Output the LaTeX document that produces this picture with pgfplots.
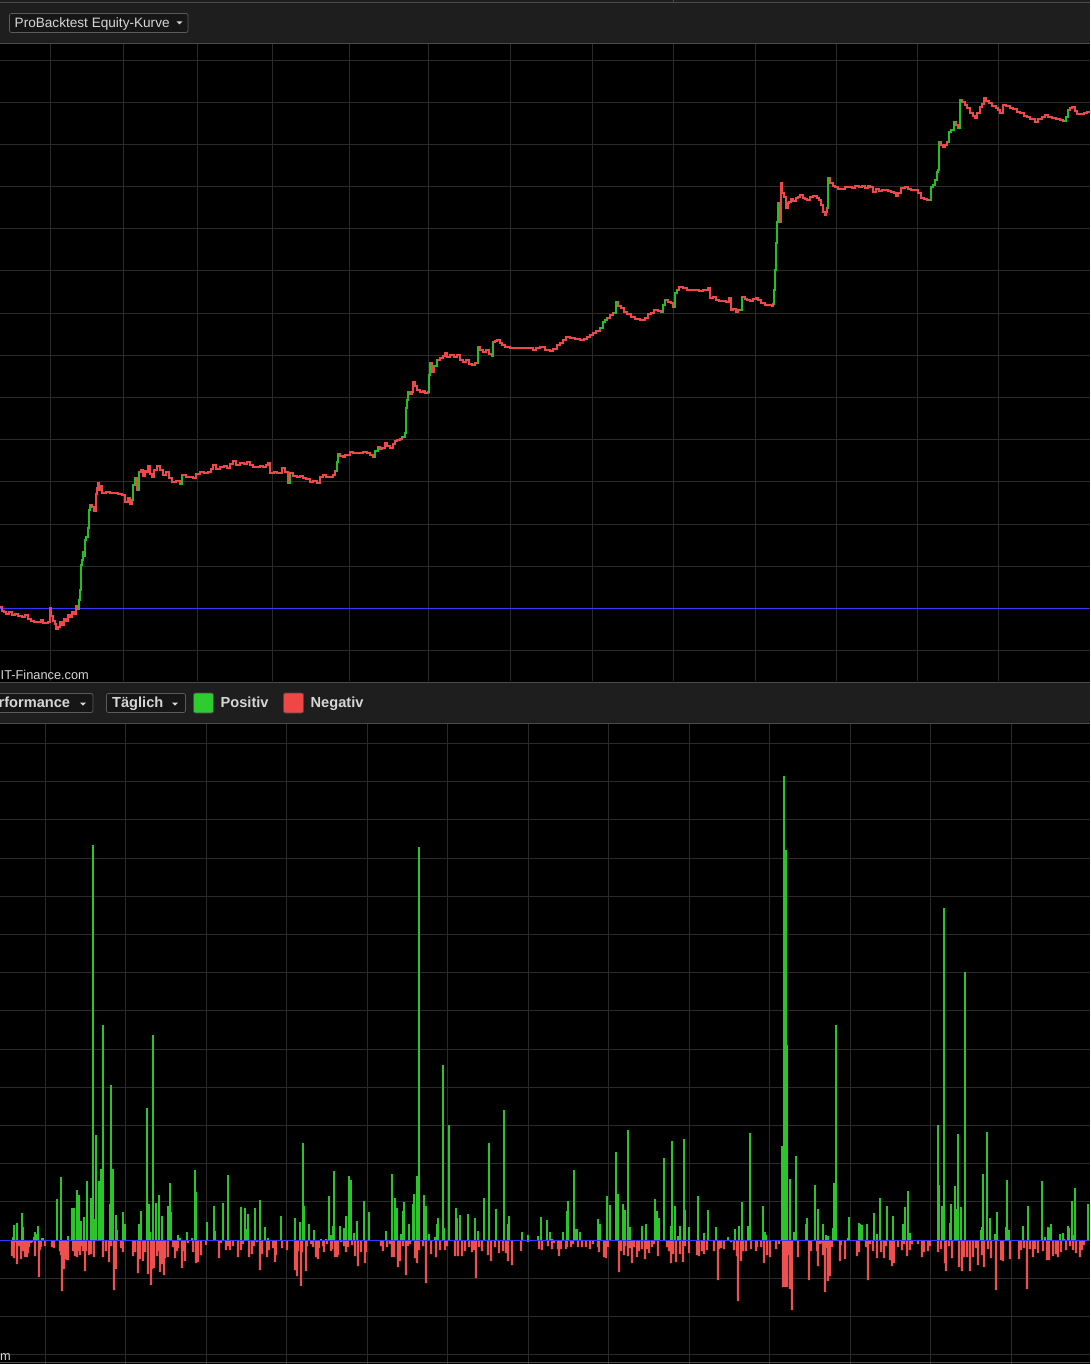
\documentclass[border=0pt]{standalone}
\usepackage{pgfplots}
\pgfplotsset{compat=1.18}
\usepackage{pgfplotstable}
\usepackage{fontspec}
\setmainfont{Liberation Sans}
\definecolor{barbg}{HTML}{1E1E1E}
\definecolor{btn}{HTML}{161616}
\definecolor{btnline}{HTML}{5A5A5A}
\definecolor{sep}{HTML}{4A4A4A}
\definecolor{gridc}{HTML}{2A2A2A}
\definecolor{txt}{HTML}{D6D6D6}
\definecolor{eqred}{HTML}{F04848}
\definecolor{eqgreen}{HTML}{22C022}
\definecolor{bgreen}{HTML}{2BC42B}
\definecolor{bred}{HTML}{EE5050}
\definecolor{zblue}{HTML}{3535FF}
\definecolor{sqgreen}{HTML}{2ECC2E}
\definecolor{sqred}{HTML}{EF4646}

\pgfplotstableread{
x y
0 607
2 611
4 612
6 614
9 612
12 615
15 614
18 616
22 617
25 615
28 619
31 621
34 622
38 622
41 620
43 623
46 623
48 622
50 608
51 616
53 621
55 624
56 629
58 627
60 622
62 625
64 619
66 621
68 615
70 617
72 612
74 614
76 606
78 609
79 600
80 590
81 565
82 560
83 552
84 556
85 540
86 537
88 528
89 510
90 505
92 507
94 511
96 494
97 488
98 483
99 490
100 486
102 493
106 492
110 493
114 493
118 494
122 495
125 502
128 498
130 504
132 500
133 485
135 478
137 490
139 472
141 470
143 476
145 471
147 472
148 466
150 474
152 477
154 470
157 466
160 470
163 475
166 472
169 478
172 482
176 481
180 484
182 475
186 477
190 477
193 478
196 474
200 472
204 473
208 472
211 469
213 465
216 469
220 467
224 466
227 468
230 464
233 461
236 465
240 463
244 464
247 462
250 465
253 467
257 467
260 466
263 467
266 465
268 463
270 473
274 472
277 473
280 473
282 468
285 472
288 483
290 473
293 476
297 477
300 476
303 478
306 479
310 482
313 481
317 483
320 477
323 475
326 477
330 477
333 475
335 471
337 462
338 454
340 456
343 457
345 455
347 455
350 452
353 453
357 453
360 453
363 452
367 453
370 455
373 457
375 451
378 447
380 449
382 448
385 443
387 446
390 448
393 444
395 441
397 440
400 439
402 437
405 433
406 408
407 400
408 392
410 394
412 392
413 382
415 386
417 390
420 392
423 391
425 393
428 392
429 375
430 363
432 372
434 366
437 360
440 358
443 356
445 353
447 357
450 355
454 357
457 355
460 360
463 362
466 360
469 364
472 365
475 363
477 363
478 347
480 350
483 352
486 350
489 354
492 356
493 342
495 341
497 340
500 343
502 345
505 347
510 348
515 348
520 348
525 348
530 348
533 350
536 348
540 347
545 350
550 351
553 349
557 345
560 343
563 340
566 337
570 338
575 339
580 340
584 339
587 337
590 335
593 333
596 331
600 328
603 322
605 320
607 318
610 315
613 313
616 302
618 306
621 308
624 312
627 314
631 317
635 319
640 320
645 318
648 314
651 313
654 310
658 311
661 312
663 305
665 300
668 302
671 303
673 307
675 293
677 290
679 287
683 288
687 290
691 290
695 290
699 291
703 290
707 290
708 288
710 298
713 297
716 300
719 301
723 301
726 302
729 298
731 310
733 309
736 312
738 310
740 310
742 297
745 299
747 300
750 301
753 299
756 298
758 300
761 303
765 305
769 305
772 306
773 304
774 290
775 270
776 243
777 222
778 203
779 210
780 222
781 183
782 193
784 197
786 208
788 203
789 202
791 199
793 201
796 198
798 197
800 195
803 198
805 199
807 200
810 197
813 196
817 198
819 200
821 205
823 212
825 215
826 212
827 208
828 178
830 183
833 186
835 187
838 189
842 189
845 187
849 187
852 188
855 186
859 187
862 186
865 188
868 186
870 187
873 192
876 189
879 191
882 190
885 190
888 191
891 192
894 193
896 196
898 193
901 188
903 188
905 187
908 189
911 190
915 190
918 193
921 198
924 199
927 200
929 200
931 187
933 185
935 180
937 172
938 170
939 142
941 145
943 147
945 145
947 142
949 132
951 130
954 122
956 125
958 128
960 100
962 102
965 105
967 108
970 113
973 116
975 118
977 113
980 107
982 104
984 98
986 101
989 103
992 106
996 108
998 110
1000 113
1003 105
1006 106
1010 108
1013 109
1017 112
1020 113
1024 116
1027 117
1030 119
1035 122
1038 119
1042 117
1045 115
1048 117
1052 118
1056 119
1060 120
1063 121
1066 117
1068 110
1070 108
1072 107
1075 111
1077 114
1080 114
1084 113
1087 112
1090 113
}\eq

\pgfplotstableread{
x y
78 609
79 600
80 590
81 565
82 560
83 552
nan nan
84 556
85 540
86 537
88 528
89 510
90 505
nan nan
132 500
133 485
135 478
nan nan
137 490
139 472
nan nan
180 484
182 475
nan nan
288 483
290 473
nan nan
335 471
337 462
338 454
nan nan
373 457
375 451
378 447
nan nan
402 437
405 433
406 408
407 400
408 392
nan nan
428 392
429 375
430 363
nan nan
434 366
437 360
nan nan
477 363
478 347
nan nan
492 356
493 342
nan nan
600 328
603 322
605 320
607 318
nan nan
613 313
616 302
nan nan
661 312
663 305
665 300
nan nan
673 307
675 293
677 290
nan nan
740 310
742 297
nan nan
773 304
774 290
775 270
776 243
777 222
778 203
nan nan
827 208
828 178
nan nan
929 200
931 187
933 185
935 180
937 172
938 170
939 142
nan nan
947 142
949 132
951 130
954 122
nan nan
958 128
960 100
nan nan
1063 121
1066 117
1068 110
}\eqg

\pgfplotstableread{
x v
13 3
14 15
17 17
22 27
23 13
34 3
35 8
37 6
38 14
42 2
43 2
57 41
61 63
68 4
72 32
74 32
77 50
79 45
81 19
84 23
87 59
91 42
93 395
94 21
96 105
99 59
100 33
101 71
103 215
110 36
111 155
113 71
116 25
117 10
123 28
125 16
139 16
141 29
147 132
148 17
149 36
150 8
153 205
156 37
159 45
162 24
168 34
170 57
171 28
178 5
180 2
187 8
192 2
195 70
196 48
207 18
214 34
215 9
223 37
228 65
241 33
245 32
247 11
248 26
255 32
260 40
265 13
268 2
281 24
295 22
300 18
303 97
304 34
309 16
314 10
321 1
326 1
329 44
331 5
333 14
334 69
340 14
344 12
346 24
349 64
351 60
354 7
357 19
364 39
369 28
386 9
392 66
395 42
397 32
401 6
403 29
404 38
409 16
413 36
414 46
417 64
418 20
419 393
424 45
426 34
429 6
435 3
437 16
438 22
443 175
444 12
449 115
456 32
457 22
460 25
468 26
475 22
478 9
484 42
489 97
496 31
504 130
508 16
509 24
522 8
528 5
538 4
541 23
547 20
550 8
552 1
563 8
567 29
568 39
574 70
575 11
577 11
580 8
598 21
600 16
607 44
610 35
616 88
618 46
623 36
625 30
628 110
630 13
642 14
646 16
655 41
657 29
659 22
664 82
671 14
672 99
675 34
678 4
680 14
684 101
685 30
689 13
698 44
704 7
708 30
716 13
728 3
735 11
739 14
742 38
748 14
750 107
763 34
765 8
766 5
782 94
784 464
785 390
786 390
787 195
790 61
794 8
796 84
806 16
807 22
815 55
818 31
823 16
826 5
828 4
833 12
834 57
836 215
848 2
849 23
859 17
860 16
862 15
867 16
874 27
877 6
880 42
887 34
893 24
903 16
904 3
905 33
908 49
910 7
938 115
939 55
942 34
943 10
944 332
950 17
951 36
955 54
956 31
958 106
961 33
965 268
981 10
982 13
983 66
987 108
990 22
995 6
997 28
1006 13
1007 60
1009 10
1023 14
1028 34
1042 59
1045 3
1048 13
1049 12
1051 16
1060 6
1063 7
1064 1
1068 14
1069 12
1072 39
1074 5
1075 52
1088 36
}\pos

\pgfplotstableread{
x v
12 -16
14 -18
16 -2
17 -24
18 -6
19 -6
21 -19
22 -6
23 -11
25 -17
26 -17
27 -17
28 -13
29 -7
31 -3
32 -2
35 -16
39 -37
40 -10
41 -7
45 -6
52 -7
53 -7
54 -8
60 -11
61 -15
62 -51
64 -29
66 -19
67 -20
68 -20
73 -11
75 -16
77 -17
79 -11
80 -15
82 -6
83 -11
85 -31
86 -11
89 -15
91 -14
94 -17
103 -17
106 -11
109 -22
111 -6
114 -50
116 -29
121 -8
123 -12
133 -16
135 -12
138 -33
139 -10
140 -19
143 -21
145 -12
148 -34
151 -45
152 -29
154 -28
157 -16
158 -11
160 -32
162 -24
164 -35
165 -18
168 -17
173 -7
175 -18
177 -11
178 -8
182 -28
183 -11
185 -21
188 -3
193 -12
196 -23
198 -22
201 -15
206 -5
219 -18
221 -3
226 -10
228 -6
230 -10
233 -6
238 -17
241 -10
243 -4
249 -17
252 -14
254 -6
257 -2
260 -30
262 -14
264 -1
267 -17
269 -10
273 -8
275 -22
276 -15
282 -8
287 -10
295 -30
297 -36
298 -11
301 -46
302 -12
306 -31
307 -6
311 -4
313 -7
316 -17
318 -19
319 -8
323 -6
324 -12
327 -4
331 -11
332 -9
335 -17
337 -17
338 -15
341 -2
344 -6
346 -12
348 -7
352 -5
355 -16
358 -26
361 -12
365 -23
366 -12
381 -6
383 -11
387 -7
390 -4
392 -17
394 -17
398 -27
400 -21
403 -6
406 -35
408 -6
410 -4
415 -18
417 -23
419 -10
423 -6
426 -43
431 -14
436 -17
440 -10
445 -10
447 -6
455 -16
458 -16
462 -16
465 -11
469 -7
472 -12
474 -10
476 -38
479 -7
482 -11
488 -15
491 -21
495 -7
499 -13
503 -11
506 -13
508 -21
512 -25
521 -11
528 -2
539 -9
542 -10
548 -6
552 -9
554 -3
558 -9
559 -16
561 -9
566 -9
567 -7
571 -7
573 -4
578 -7
582 -7
586 -7
590 -9
593 -4
598 -7
599 -12
604 -17
606 -18
608 -7
619 -32
621 -11
624 -15
625 -6
628 -16
630 -8
632 -23
634 -7
637 -17
639 -11
642 -9
645 -19
647 -9
649 -13
652 -7
654 -4
658 -16
667 -7
669 -11
671 -23
673 -14
676 -22
680 -14
683 -22
685 -6
689 -13
697 -15
699 -16
702 -11
704 -14
707 -10
714 -11
718 -40
719 -9
721 -8
724 -9
731 -2
734 -10
737 -16
738 -61
741 -21
743 -11
746 -11
751 -9
756 -11
757 -7
761 -7
764 -23
767 -15
770 -17
776 -9
779 -4
783 -47
784 -47
785 -47
786 -47
787 -47
789 -15
790 -49
792 -70
798 -17
809 -40
811 -11
817 -11
818 -26
820 -4
822 -3
823 -15
825 -52
826 -8
828 -41
830 -36
832 -7
840 -21
841 -5
845 -19
857 -16
859 -12
866 -7
868 -40
870 -4
873 -11
877 -18
881 -12
884 -18
886 -6
890 -20
892 -26
894 -23
898 -7
902 -10
904 -4
907 -16
910 -10
912 -4
918 -4
922 -17
924 -12
928 -11
930 -6
938 -12
941 -9
945 -23
946 -31
949 -6
952 -18
959 -27
962 -31
964 -17
967 -17
970 -31
973 -17
976 -8
978 -25
982 -15
984 -27
988 -9
991 -18
996 -50
1001 -20
1003 -21
1010 -19
1019 -19
1021 -10
1024 -8
1027 -49
1030 -9
1033 -17
1035 -9
1038 -13
1043 -11
1047 -20
1049 -20
1053 -16
1056 -14
1058 -17
1061 -12
1066 -10
1070 -6
1073 -10
1076 -13
1080 -17
1082 -10
1084 -5
1087 -1
}\neg

\pgfplotsset{panel/.style={
  anchor=north west, scale only axis, width=1090pt,
  xmin=0, xmax=1090,
  axis line style={draw=none}, major tick length=0pt,
  xticklabels={}, yticklabels={},
  grid=major, grid style={gridc, line width=1pt},
  clip=true}}

\begin{document}
\begin{tikzpicture}
\useasboundingbox (0pt,0pt) rectangle (1090pt,-1364pt);
\begin{scope}[x=1pt,y=1pt]
\fill[black] (0,0) rectangle (1090,-1364);
% top header
\fill[barbg] (0,0) rectangle (1090,-43);
\draw[sep, line width=1pt] (0,-2.5) -- (1090,-2.5);
\draw[sep, line width=1pt] (673,0) -- (673,-2.5);
\draw[sep, line width=1pt] (0,-43.5) -- (1090,-43.5);
\draw[btnline, fill=btn, rounded corners=2pt, line width=0.8pt] (9.5,-13.5) rectangle (188,-32.5);
\node[anchor=base west, inner sep=0pt, text=txt, font=\fontsize{13.6}{16}\selectfont] at (14.5,-27.5) {ProBacktest Equity-Kurve};
\fill[txt] (176.5,-21.5) -- (182.5,-21.5) -- (179.5,-24.5) -- cycle;
% lower header
\fill[barbg] (0,-682) rectangle (1090,-723);
\draw[sep, line width=1pt] (0,-682.5) -- (1090,-682.5);
\draw[sep, line width=1pt] (0,-723.5) -- (1090,-723.5);
\draw[btnline, fill=btn, rounded corners=2pt, line width=0.8pt] (-6,-693.5) rectangle (93,-712.5);
\node[anchor=base west, inner sep=0pt, text=txt, font=\bfseries\fontsize{14.6}{17}\selectfont] at (-1.5,-707.5) {rformance};
\fill[txt] (80,-702.5) -- (86,-702.5) -- (83,-705.5) -- cycle;
\draw[btnline, fill=btn, rounded corners=2pt, line width=0.8pt] (106.5,-693.5) rectangle (185.5,-712.5);
\node[anchor=base west, inner sep=0pt, text=txt, font=\bfseries\fontsize{14.6}{17}\selectfont] at (112,-707.5) {Täglich};
\fill[txt] (172,-702.5) -- (178,-702.5) -- (175,-705.5) -- cycle;
\draw[sep, fill=sqgreen, rounded corners=2pt, line width=0.8pt] (193.5,-693) rectangle (213.5,-713);
\node[anchor=base west, inner sep=0pt, text=txt, font=\bfseries\fontsize{14.6}{17}\selectfont] at (220.5,-707.5) {Positiv};
\draw[sep, fill=sqred, rounded corners=2pt, line width=0.8pt] (283.5,-693) rectangle (303.5,-713);
\node[anchor=base west, inner sep=0pt, text=txt, font=\bfseries\fontsize{14.6}{17}\selectfont] at (310.5,-707.5) {Negativ};
\end{scope}

% equity panel
\begin{axis}[panel, at={(0pt,-44pt)}, height=637pt,
  ymin=44, ymax=681, y dir=reverse,
  xtick={50,123,197,272,349,428,510,592,673,755,836,917,998},
  ytick={60,102,144,186,228,270,313,355,397,439,481,524,566,650}]
\addplot[zblue, line width=1pt] coordinates {(0,608) (1090,608)};
\addplot[eqred, line width=1.2pt, const plot] table[x=x,y=y] {\eq};
\addplot[eqgreen, line width=1.2pt, const plot, unbounded coords=jump] table[x=x,y=y] {\eqg};
\end{axis}

% daily performance panel
\begin{axis}[panel, at={(0pt,-724pt)}, height=640pt,
  ymin=-124, ymax=516,
  xtick={45,125.5,206,286.5,367,447.5,528,608.5,689,769.5,850,930.5,1011},
  ytick={-114.6,-76.4,-38.2,38.2,76.4,114.6,152.8,191,229.2,267.4,305.6,343.8,382,420.2,458.4,496.6}]
\addplot[ybar, bar width=1.7pt, bar shift=0pt, fill=bgreen, draw=none] table[x=x,y=v] {\pos};
\addplot[ybar, bar width=2.2pt, bar shift=0pt, fill=bred, draw=none] table[x=x,y=v] {\neg};
\addplot[zblue, line width=1pt] coordinates {(0,0) (1090,0)};
\end{axis}

\begin{scope}[x=1pt,y=1pt]
\node[anchor=base west, inner sep=0pt, text=txt, font=\fontsize{12.8}{15}\selectfont] at (0.5,-679.5) {IT-Finance.com};
\node[anchor=base west, inner sep=0pt, text=txt, font=\fontsize{12.8}{15}\selectfont] at (0,-1360) {m};
\draw[sep, line width=1pt] (0,-1362.5) -- (1090,-1362.5);
\end{scope}
\end{tikzpicture}
\end{document}
